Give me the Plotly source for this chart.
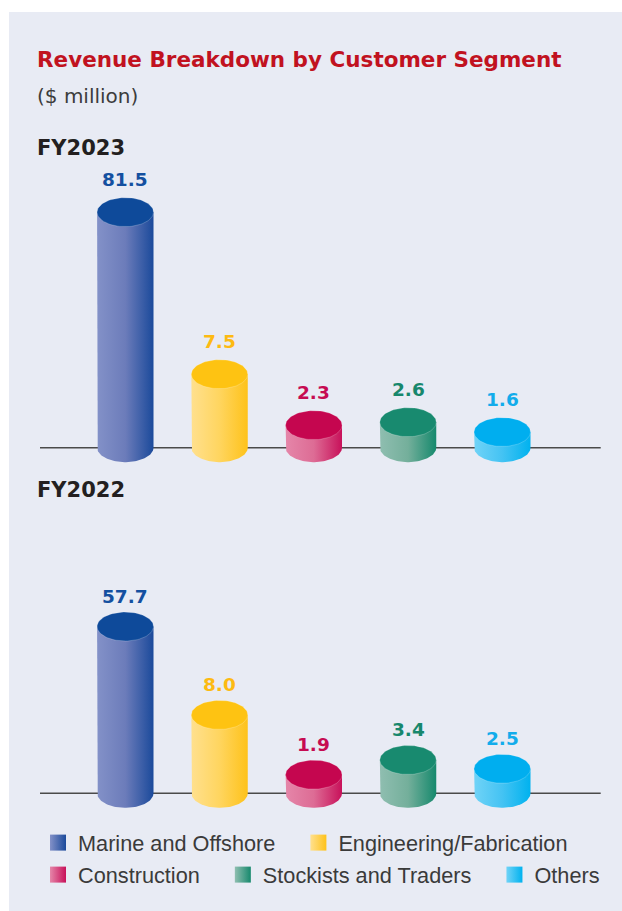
import numpy as np
import plotly.graph_objects as go

# ---------------- data ----------------
segments = ["Marine and Offshore", "Engineering/Fabrication", "Construction",
            "Stockists and Traders", "Others"]
fy2023 = [81.5, 7.5, 2.3, 2.6, 1.6]
fy2022 = [57.7, 8.0, 1.9, 3.4, 2.5]
years = ["FY2023", "FY2022"]
title_text = "Revenue Breakdown by Customer Segment"
unit_text = "($ million)"

# ---------------- style ----------------
top_colors = ["#0E4A9A", "#FEC312", "#C5064F", "#188A6F", "#00AEEF"]
label_colors = ["#1450A0", "#FDBA12", "#C60B52", "#17876C", "#12ACEB"]
body_scales = [
    [[0, "#8391C8"], [0.5, "#6C7CBA"], [1, "#1B4A9B"]],
    [[0, "#FFE08E"], [0.5, "#FFD55F"], [1, "#FEC21A"]],
    [[0, "#E586A9"], [0.5, "#DD6C95"], [1, "#C8115A"]],
    [[0, "#8FBEB0"], [0.5, "#74AF9B"], [1, "#16896D"]],
    [[0, "#70D3F7"], [0.5, "#44C3F3"], [1, "#00B2EF"]],
]

W, H = 622, 911
X_LEFT_PX, X_RIGHT_PX = 40, 600.7
CENTER0_PX, STEP_PX = 125.3, 94.25
HALF_W_PX = 28.2
RY_PX = 14.5
SMALL_PPU = 9.8     # px per $m for small segments
LARGE_PPU = 2.89    # px per $m for the (broken-scale) large segment
BREAK_AT = 20

panels = [
    dict(top=185, bottom=472, base=447.7, label_shift=33),
    dict(top=528, bottom=817, base=793.3, label_shift=30),
]


def py(px):
    return 1 - px / H


x_range = [(X_LEFT_PX - CENTER0_PX) / STEP_PX, (X_RIGHT_PX - CENTER0_PX) / STEP_PX]
x_dom = [X_LEFT_PX / W, X_RIGHT_PX / W]
hw = HALF_W_PX / STEP_PX

fig = go.Figure()
annotations = []
shapes = []

# panel background
shapes.append(dict(type="rect", xref="paper", yref="paper", x0=9 / W, x1=1.01,
                   y0=-0.01, y1=py(12), fillcolor="#E8EBF4", line=dict(width=0),
                   layer="below"))

axis_ids = [("x", "y", "y2"), ("x2", "y3", "y4")]
t_bot = np.linspace(np.pi, 2 * np.pi, 60)
t_full = np.linspace(0, 2 * np.pi, 90)

for p, (panel, vals, yr) in enumerate(zip(panels, [fy2023, fy2022], years)):
    xa, ys, yl = axis_ids[p]
    for i, v in enumerate(vals):
        large = v > BREAK_AT
        ppu = LARGE_PPU if large else SMALL_PPU
        yref = yl if large else ys
        ry = RY_PX / ppu
        # cylinder body
        bx = [i - hw, i - hw] + list(i + hw * np.cos(t_bot)) + [i + hw, i + hw]
        by = [v, 0] + list(ry * np.sin(t_bot)) + [0, v]
        fig.add_trace(go.Scatter(
            x=bx, y=by, xaxis=xa, yaxis=yref, mode="lines", fill="toself",
            line=dict(width=0),
            fillgradient=dict(type="horizontal", colorscale=body_scales[i]),
            hoverinfo="skip", showlegend=False))
        # cylinder top
        fig.add_trace(go.Scatter(
            x=list(i + hw * np.cos(t_full)), y=list(v + ry * np.sin(t_full)),
            xaxis=xa, yaxis=yref, mode="lines", fill="toself",
            line=dict(width=0.6, color="rgba(255,255,255,0.35)"),
            fillcolor=top_colors[i], hoverinfo="skip", showlegend=False))
        annotations.append(dict(
            x=i, y=v, xref=xa, yref=yref, text=f"{v:.1f}", showarrow=False,
            yanchor="middle", yshift=panel["label_shift"],
            font=dict(family="DejaVu Sans", size=18.5, weight="bold", color=label_colors[i])))
    # baseline
    shapes.append(dict(type="line", xref="paper", yref=ys, x0=x_dom[0], x1=x_dom[1],
                       y0=0, y1=0, line=dict(color="#4A4A4A", width=1.6), layer="below"))
    # year label
    annotations.append(dict(
        x=35 / W, y=py(148 if p == 0 else 490), xref="paper", yref="paper",
        text=yr, showarrow=False, xanchor="left", yanchor="middle",
        font=dict(family="DejaVu Sans", size=21, weight="bold", color="#231F20")))

# legend entries
for i, name in enumerate(segments):
    lg = "legend" if i < 2 else "legend2"
    last_in_row = i in (1, 4)
    fig.add_trace(go.Scatter(
        x=[None], y=[None], mode="markers", name=name + ("" if last_in_row else "\u00a0\u00a0\u00a0"),
        legend=lg,
        marker=dict(symbol="square", size=16, color=body_scales[i][0][1],
                    gradient=dict(type="horizontal", color=body_scales[i][-1][1]),
                    line=dict(width=0)),
        hoverinfo="skip"))

annotations.append(dict(
    x=35 / W, y=py(60), xref="paper", yref="paper", text=title_text, showarrow=False,
    xanchor="left", yanchor="middle",
    font=dict(family="DejaVu Sans", size=21.5, weight="bold", color="#C1121F")))
annotations.append(dict(
    x=35 / W, y=py(96), xref="paper", yref="paper", text=unit_text, showarrow=False,
    xanchor="left", yanchor="middle",
    font=dict(family="DejaVu Sans", size=20, color="#3C3C3C")))


def yrange(panel, ppu):
    return [-(panel["bottom"] - panel["base"]) / ppu, (panel["base"] - panel["top"]) / ppu]


hidden = dict(visible=False, showgrid=False, zeroline=False, fixedrange=True)
legend_common = dict(orientation="h", xanchor="left", yanchor="middle",
                     bgcolor="rgba(0,0,0,0)", borderwidth=0, traceorder="normal",
                     font=dict(family="Liberation Sans, Arial", size=21.7, color="#3A3A3A"))

fig.update_layout(
    width=W, height=H, margin=dict(l=0, r=0, t=0, b=0),
    paper_bgcolor="white", plot_bgcolor="rgba(0,0,0,0)",
    xaxis=dict(domain=x_dom, range=x_range, anchor="y", **hidden),
    xaxis2=dict(domain=x_dom, range=x_range, anchor="y3", **hidden),
    yaxis=dict(domain=[py(panels[0]["bottom"]), py(panels[0]["top"])],
               range=yrange(panels[0], SMALL_PPU), anchor="x", **hidden),
    yaxis2=dict(overlaying="y", range=yrange(panels[0], LARGE_PPU), anchor="x", **hidden),
    yaxis3=dict(domain=[py(panels[1]["bottom"]), py(panels[1]["top"])],
                range=yrange(panels[1], SMALL_PPU), anchor="x2", **hidden),
    yaxis4=dict(overlaying="y3", range=yrange(panels[1], LARGE_PPU), anchor="x2", **hidden),
    legend=dict(x=38 / W, y=py(843), **legend_common),
    legend2=dict(x=38 / W, y=py(875), **legend_common),
    annotations=annotations, shapes=shapes, showlegend=True,
)

fig.write_html("out.html", config={"displayModeBar": False},
               post_script="document.body.style.margin='0px';")
